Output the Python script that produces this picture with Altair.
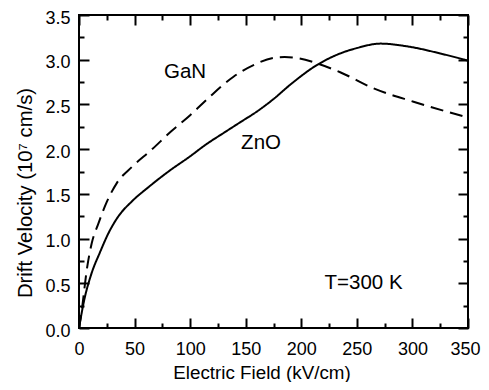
import altair as alt
import pandas as pd

# ---- data ----
zno_field = [0, 5, 11, 19, 26.5, 35.5, 47.5, 62.5, 80.5, 100, 114, 130, 145, 160, 175, 190, 214, 235, 250, 271, 295, 325, 350]
zno_vel = [0, 0.33, 0.60, 0.85, 1.06, 1.25, 1.415, 1.575, 1.75, 1.92, 2.05, 2.18, 2.30, 2.42, 2.56, 2.72, 2.94, 3.07, 3.13, 3.18, 3.15, 3.07, 2.99]

gan_field = [0, 2.5, 7, 11.5, 17.5, 25, 34, 47.5, 65, 83, 100, 118, 139, 157, 175, 185, 196, 214, 235, 265, 301, 345]
gan_vel = [0, 0.20, 0.65, 0.95, 1.17, 1.41, 1.62, 1.80, 1.99, 2.20, 2.38, 2.59, 2.81, 2.94, 3.02, 3.03, 3.02, 2.96, 2.86, 2.68, 2.53, 2.37]

materials = ["ZnO", "GaN"]

x_major = [0, 50, 100, 150, 200, 250, 300, 350]
x_minor = [25, 75, 125, 175, 225, 275, 325]
y_major = [0.0, 0.5, 1.0, 1.5, 2.0, 2.5, 3.0, 3.5]
y_minor = [0.25, 0.75, 1.25, 1.75, 2.25, 2.75, 3.25]

df = pd.concat([
    pd.DataFrame({"field": zno_field, "vel": zno_vel, "material": "ZnO"}),
    pd.DataFrame({"field": gan_field, "vel": gan_vel, "material": "GaN"}),
], ignore_index=True)

FONT = "Liberation Sans"
xscale = alt.Scale(domain=[0, 350], nice=False, zero=False)
yscale = alt.Scale(domain=[0, 3.5], nice=False, zero=False)


def tick_axis(orient, values, size, **kw):
    base = dict(orient=orient, values=values, tickSize=size, offset=-size,
                domain=False, grid=False, tickColor="black", tickWidth=2,
                labels=False, title=None)
    base.update(kw)
    return alt.Axis(**base)


x_main_axis = tick_axis(
    "bottom", x_major, 10, labels=True, format="d", labelFlush=False,
    labelFont=FONT, labelFontSize=18, labelColor="black", labelPadding=12,
    labelOffset=alt.ConditionalAxisNumber(
        condition={"test": "datum.value == 350", "value": -3}, value=0),
    title="Electric Field (kV/cm)", titleFont=FONT, titleFontSize=18.8,
    titleFontWeight="normal", titleColor="black", titleX=182.5, titleY=60,
    titleAlign="center", titleBaseline="alphabetic",
)
y_main_axis = tick_axis(
    "left", y_major, 10, labels=True, format=".1f", labelFlush=False,
    labelFont=FONT, labelFontSize=18, labelColor="black", labelPadding=9,
    labelOffset=3,
    title="Drift Velocity (10\u2077 cm/s)", titleFont=FONT, titleFontSize=20.3,
    titleFontWeight="normal", titleColor="black", titleX=-58, titleY=177.5,
    titleAngle=270, titleAlign="center", titleBaseline="alphabetic",
)

lines = alt.Chart(df).mark_line(color="black", strokeWidth=2, interpolate="monotone").encode(
    x=alt.X("field:Q", scale=xscale, axis=x_main_axis),
    y=alt.Y("vel:Q", scale=yscale, axis=y_main_axis),
    strokeDash=alt.StrokeDash("material:N",
                              scale=alt.Scale(domain=materials, range=[[1, 0], [13, 7]]),
                              legend=None),
)


def ghost(xax, yax):
    return alt.Chart(df).mark_point(opacity=0).encode(
        x=alt.X("field:Q", scale=xscale, axis=xax),
        y=alt.Y("vel:Q", scale=yscale, axis=yax),
    )


g1 = ghost(tick_axis("top", x_major, 10), tick_axis("right", y_major, 10))
g2 = ghost(tick_axis("bottom", x_minor, 5), tick_axis("left", y_minor, 5))
g3 = ghost(tick_axis("top", x_minor, 5), tick_axis("right", y_minor, 5))


def label(text, xv, yv, size=20.5):
    return alt.Chart(df).mark_text(text=text, font=FONT, fontSize=size, color="black",
                                   align="center", baseline="middle").encode(
        x=alt.X(datum=xv, axis=None),
        y=alt.Y(datum=yv, axis=None),
    ).transform_filter(alt.datum.field == 0).transform_filter(alt.datum.material == "ZnO")


t_gan = label("GaN", 95.4, 2.86)
t_zno = label("ZnO", 163.8, 2.07)
t_temp = label("T=300 K", 256, 0.50)

chart = alt.layer(lines, g1, g2, g3, t_gan, t_zno, t_temp).resolve_axis(
    x="independent", y="independent"
).properties(
    width=389, height=313,
    padding={"left": 71, "top": 7, "right": 13, "bottom": 54},
    autosize=alt.AutoSizeParams(type="none"),
).configure_view(stroke="black", strokeWidth=2)

chart.save("out.html", embed_options={"renderer": "svg", "actions": False})
